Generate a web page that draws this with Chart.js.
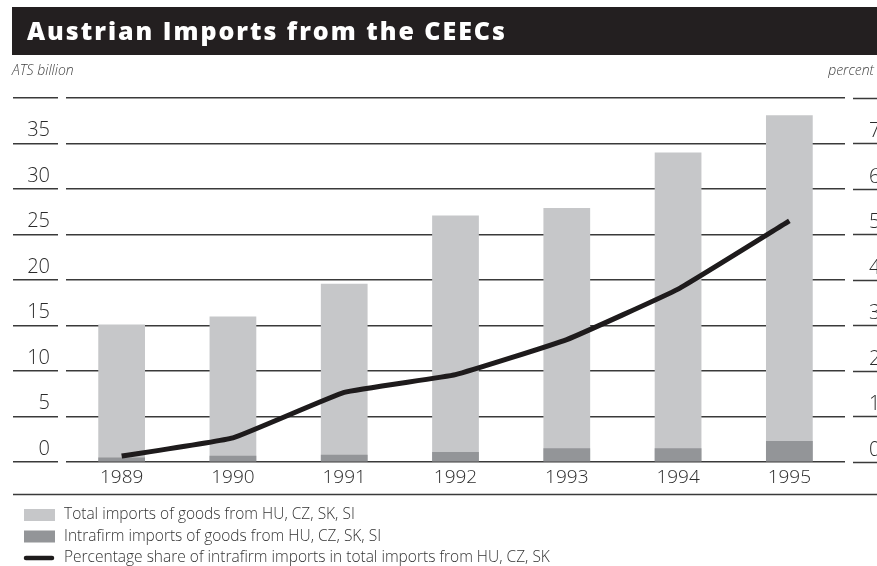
<!DOCTYPE html>
<html>
<head>
<meta charset="utf-8">
<title>Austrian Imports from the CEECs</title>
<script src="https://cdn.jsdelivr.net/npm/chart.js@4.4.1/dist/chart.umd.min.js"></script>
<style>
  html, body { margin: 0; padding: 0; background: #fff; overflow: hidden; }
  #wrap { position: relative; width: 877px; height: 566px; overflow: hidden; }
  #box { position: absolute; left: 0; top: 0; width: 920px; height: 566px; }
</style>
</head>
<body>
<div id="wrap"><div id="box"><canvas id="chart"></canvas></div></div>
<script>
// Years on the category axis
const years = ['1989', '1990', '1991', '1992', '1993', '1994', '1995'];
// ATS billion
const totalImports = [15.1, 16.0, 19.6, 27.1, 27.9, 34.0, 38.1];
const intrafirmImports = [0.5, 0.7, 0.8, 1.1, 1.5, 1.5, 2.3];
// percent
const intrafirmShare = [0.13, 0.53, 1.53, 1.92, 2.69, 3.8, 5.3];
// labelled ticks
const billionTicks = [0, 5, 10, 15, 20, 25, 30, 35];
const percentTicks = [0, 1, 2, 3, 4, 5, 6, 7];

const seriesLabels = [
  'Total imports of goods from HU, CZ, SK, SI',
  'Intrafirm imports of goods from HU, CZ, SK, SI',
  'Percentage share of intrafirm imports in total imports from HU, CZ, SK'
];

const INK = '#2b2b2b';
const GRID = '#3a3a3a';
const LIGHT_FONT = '"Open Sans", "DejaVu Sans", sans-serif';

// Title band, unit captions, separator rule and the stacked legend rows
const decorations = {
  id: 'decorations',
  beforeDraw(chart) {
    const ctx = chart.ctx;
    ctx.save();
    ctx.fillStyle = '#231f20';
    ctx.fillRect(12, 7, chart.width - 12, 48);
    const title = 'Austrian Imports from the CEECs';
    ctx.font = '800 25px "Open Sans", "DejaVu Sans", sans-serif';
    ctx.fillStyle = '#ffffff';
    ctx.textBaseline = 'alphabetic';
    ctx.textAlign = 'left';
    const w = ctx.measureText(title).width;
    if ('letterSpacing' in ctx) {
      ctx.letterSpacing = Math.max(0, (478 - w) / (title.length - 1)).toFixed(2) + 'px';
    }
    ctx.fillText(title, 27, 40);
    if ('letterSpacing' in ctx) ctx.letterSpacing = '0px';

    ctx.font = 'italic 300 14px ' + LIGHT_FONT;
    ctx.fillStyle = '#444';
    ctx.textBaseline = 'middle';
    ctx.textAlign = 'left';
    ctx.fillText('ATS billion', 12, 71);
    ctx.textAlign = 'right';
    ctx.fillText('percent', 874, 71);

    ctx.strokeStyle = GRID;
    ctx.lineWidth = 1.5;
    ctx.beginPath();
    ctx.moveTo(13, 494.5);
    ctx.lineTo(chart.width, 494.5);
    ctx.stroke();
    ctx.restore();
  },
  afterDraw(chart) {
    const ctx = chart.ctx;
    const ds = chart.data.datasets;
    ctx.save();
    ctx.font = '300 15.5px ' + LIGHT_FONT;
    ctx.textBaseline = 'middle';
    ctx.textAlign = 'left';
    ds.forEach((d, i) => {
      const cy = 515 + i * 21.5;
      if (d.type === 'line') {
        ctx.strokeStyle = d.borderColor;
        ctx.lineWidth = 4.5;
        ctx.lineCap = 'round';
        ctx.beginPath();
        ctx.moveTo(26, cy);
        ctx.lineTo(52, cy);
        ctx.stroke();
      } else {
        ctx.fillStyle = d.backgroundColor;
        ctx.fillRect(24, cy - 6, 31, 12);
      }
      ctx.fillStyle = '#333';
      ctx.fillText(d.label, 64, cy);
    });
    ctx.restore();
  }
};

const isMajor = (v) => billionTicks.includes(v) || v === 40;

new Chart(document.getElementById('chart'), {
  data: {
    labels: years,
    datasets: [
      {
        type: 'bar',
        label: seriesLabels[0],
        data: totalImports,
        backgroundColor: '#c6c7c9',
        borderWidth: 0,
        grouped: false,
        barPercentage: 0.42,
        categoryPercentage: 1,
        yAxisID: 'y',
        order: 3
      },
      {
        type: 'bar',
        label: seriesLabels[1],
        data: intrafirmImports,
        backgroundColor: '#939598',
        borderWidth: 0,
        grouped: false,
        barPercentage: 0.42,
        categoryPercentage: 1,
        yAxisID: 'y',
        order: 2
      },
      {
        type: 'line',
        label: seriesLabels[2],
        data: intrafirmShare,
        borderColor: '#1e1b1c',
        borderWidth: 5,
        borderJoinStyle: 'round',
        tension: 0.1,
        pointRadius: 0,
        fill: false,
        yAxisID: 'y1',
        order: 1
      }
    ]
  },
  options: {
    responsive: true,
    maintainAspectRatio: false,
    animation: false,
    devicePixelRatio: 1,
    layout: { padding: { top: 98, left: 0, right: 0, bottom: 0 } },
    plugins: {
      legend: { display: false },
      tooltip: { enabled: false },
      title: { display: false }
    },
    scales: {
      x: {
        type: 'category',
        offset: true,
        grid: { display: false },
        border: { display: false },
        ticks: {
          color: INK,
          font: { family: LIGHT_FONT, size: 19, weight: '300' },
          padding: -4,
          maxRotation: 0
        },
        afterFit(scale) { scale.height = 104; }
      },
      y: {
        position: 'left',
        min: 0,
        max: 40,
        border: { display: false },
        grid: {
          color: GRID,
          lineWidth: 1.5,
          drawTicks: true,
          tickLength: 53,
          tickBorderDash: [45, 8],
          tickWidth: 1.5,
          tickColor: (c) => (c.tick && isMajor(c.tick.value)) ? GRID : 'rgba(0,0,0,0)'
        },
        ticks: {
          stepSize: 2.5,
          color: INK,
          font: { family: LIGHT_FONT, size: 20, weight: '300' },
          padding: -37,
          labelOffset: -13,
          callback: (v) => billionTicks.includes(v) ? String(v) : ''
        },
        afterFit(scale) { scale.width = 66; }
      },
      y1: {
        position: 'right',
        min: 0,
        max: 8,
        border: { display: false },
        grid: {
          drawOnChartArea: false,
          drawTicks: true,
          tickLength: 75,
          tickBorderDash: [0, 8, 200, 0],
          tickWidth: 1.5,
          tickColor: GRID
        },
        ticks: {
          stepSize: 1,
          color: INK,
          font: { family: LIGHT_FONT, size: 20, weight: '300' },
          padding: -51,
          labelOffset: -12,
          callback: (v) => percentTicks.includes(v) ? String(v) : ''
        },
        afterFit(scale) { scale.width = 75; }
      }
    }
  },
  plugins: [decorations]
});
</script>
</body>
</html>
